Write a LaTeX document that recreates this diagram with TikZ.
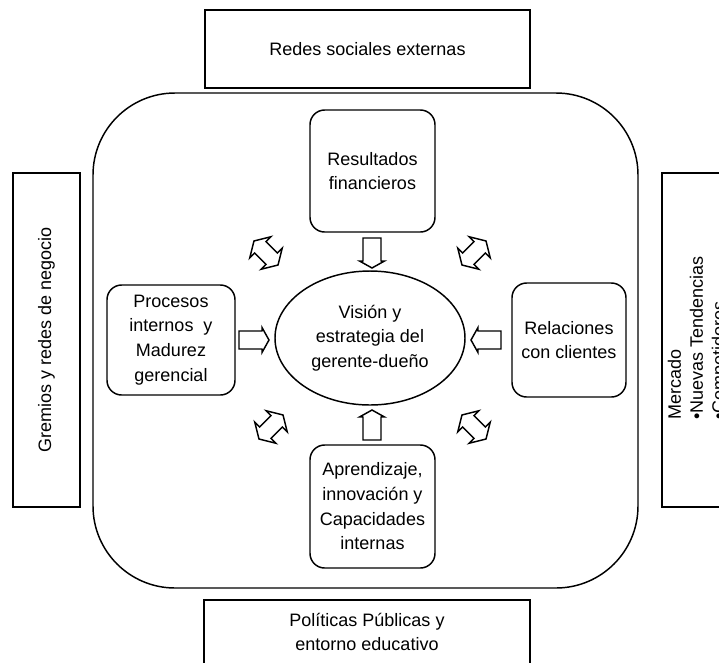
\documentclass[tikz,border=0pt]{standalone}
\usepackage{fontspec}
\setmainfont{Liberation Sans}
\usetikzlibrary{shapes.geometric}
\begin{document}
\begin{tikzpicture}[x=0.75pt,y=-0.75pt,
  every node/.style={font=\fontsize{13.5pt}{18.5pt}\selectfont},
  extbox/.style={draw, line width=1.4pt, inner sep=0pt},
  inbox/.style={draw, line width=1.1pt, rounded corners=11pt, align=center, inner sep=0pt},
  txt/.style={align=center, inner sep=0pt},
  arr/.style={draw, line width=1.1pt, line join=miter},
  sarrow/.pic={\draw[arr] (-15,-9) -- (8,-9) -- (8,-12.5) -- (15,0) -- (8,12.5) -- (8,9) -- (-15,9) -- cycle;},
  darrow/.pic={\draw[arr] (-8,-8) -- (8,-8) -- (8,-15) -- (17,0) -- (8,15) -- (8,8) -- (-8,8) -- (-8,15) -- (-17,0) -- (-8,-15) -- cycle;}
]
\useasboundingbox (0,0) rectangle (719,662);
\clip (0,0) rectangle (719,662);

% outer context boxes
\node[extbox, minimum width=243.75pt, minimum height=58.5pt] (top) at (367.5,49) {Redes sociales externas};
\node[extbox, minimum width=50.25pt, minimum height=250.5pt] (left) at (46.5,340) {};
\node[txt, rotate=90] (lefttxt) at (left.center) {Gremios y redes de negocio};
\node[extbox, minimum width=73.5pt, minimum height=250.5pt] (right) at (711,340) {};
\node[rotate=90, anchor=north west, align=left, inner sep=0pt, font=\fontsize{13.5pt}{16.5pt}\selectfont] (righttxt) at (667.5,420) {Mercado\\\textbullet Nuevas Tendencias\\\textbullet Competidores};
\node[extbox, minimum width=244.5pt, minimum height=75pt] (bottom) at (367,650) {};
\node[txt] (bottomtxt) at (367,632) {Políticas Públicas y\\entorno educativo};

% main rounded frame
\node[draw, line width=1.1pt, rounded corners=61.5pt, minimum width=408.75pt, minimum height=371.25pt] (frame) at (365.5,340.5) {};

% inner boxes
\node[inbox, minimum width=93.75pt, minimum height=91.5pt] (res) at (372.5,171) {Resultados\\financieros};
\node[inbox, minimum width=96pt, minimum height=82.5pt] (proc) at (171,340) {Procesos\\internos~ y\\Madurez\\gerencial};
\node[inbox, minimum width=85.5pt, minimum height=85.5pt] (rel) at (569,340) {Relaciones\\con clientes};
\node[inbox, minimum width=93.75pt, minimum height=92.25pt] (apr) at (372.5,506.5) {Aprendizaje,\\innovación y\\Capacidades\\internas};

% centre ellipse
\node[draw, line width=1.1pt, ellipse, minimum width=142.5pt, minimum height=100.5pt, align=center, inner sep=0pt] (vis) at (370,338) {Visión y\\estrategia del\\gerente-dueño};

% single block arrows toward the centre
\pic[rotate=-90] at (372,253) {sarrow};
\pic at (254,340) {sarrow};
\pic[rotate=180] at (486,340) {sarrow};
\pic[rotate=90] at (372,425) {sarrow};

% double block arrows on the diagonals
\pic[rotate=-45] at (266,253) {darrow};
\pic[rotate=45] at (474,253) {darrow};
\pic[rotate=45] at (271,427) {darrow};
\pic[rotate=-45] at (474,427) {darrow};
\end{tikzpicture}
\end{document}
